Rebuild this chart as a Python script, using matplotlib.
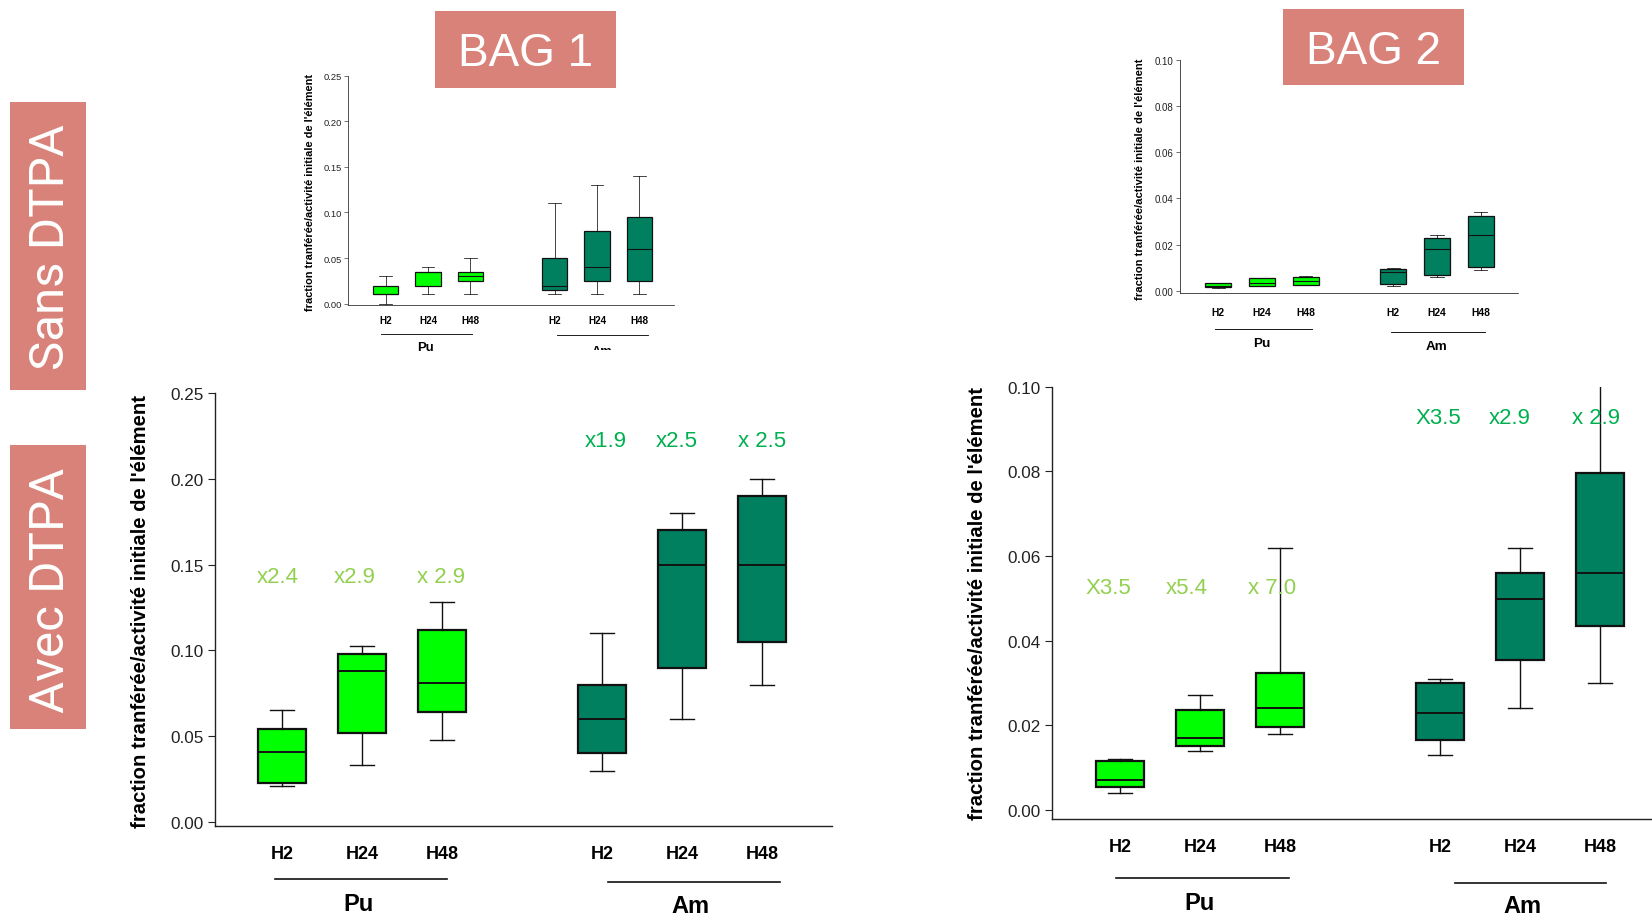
import matplotlib
matplotlib.use("Agg")
import matplotlib.pyplot as plt
import matplotlib.transforms as mtransforms
from matplotlib.patches import Rectangle

plt.rcParams["font.family"] = ["Liberation Sans", "DejaVu Sans"]

W, H = 1652, 920
SALMON = "#D9827A"
LIGHT = "#00FF00"; DARK = "#00805F"
LIGHT_TXT = "#92D050"; DARK_TXT = "#00B050"

positions = [1, 2, 3, 5, 6, 7]
times = ["H2", "H24", "H48", "H2", "H24", "H48"]
groups = ["Pu", "Am"]
fills = [LIGHT] * 3 + [DARK] * 3

# BAG 1 - sans DTPA
b1s_lo  = [0.000, 0.010, 0.010, 0.010, 0.010, 0.010]
b1s_q1  = [0.0103, 0.0198, 0.025, 0.015, 0.025, 0.025]
b1s_med = [0.0103, 0.035, 0.030, 0.0198, 0.040, 0.060]
b1s_q3  = [0.0198, 0.035, 0.035, 0.050, 0.080, 0.095]
b1s_hi  = [0.030, 0.040, 0.050, 0.110, 0.130, 0.140]

# BAG 2 - sans DTPA
b2s_lo  = [0.0013, 0.0022, 0.0026, 0.0019, 0.0059, 0.0089]
b2s_q1  = [0.0014, 0.0022, 0.0026, 0.0029, 0.0069, 0.0104]
b2s_med = [0.0022, 0.0035, 0.0040, 0.0079, 0.0180, 0.0240]
b2s_q3  = [0.0032, 0.0053, 0.0059, 0.0092, 0.0229, 0.0324]
b2s_hi  = [0.0035, 0.0056, 0.0063, 0.0099, 0.0240, 0.0340]

# BAG 1 - avec DTPA
b1a_lo  = [0.0211, 0.0331, 0.048, 0.030, 0.060, 0.080]
b1a_q1  = [0.0227, 0.0518, 0.064, 0.040, 0.090, 0.105]
b1a_med = [0.0411, 0.0883, 0.081, 0.060, 0.150, 0.150]
b1a_q3  = [0.0542, 0.0977, 0.112, 0.080, 0.170, 0.190]
b1a_hi  = [0.0652, 0.1023, 0.128, 0.110, 0.180, 0.200]

# BAG 2 - avec DTPA (last upper whisker runs past the top of the axis)
b2a_lo  = [0.00405, 0.01405, 0.0180, 0.0131, 0.0240, 0.0300]
b2a_q1  = [0.00554, 0.01512, 0.0196, 0.0166, 0.0355, 0.0434]
b2a_med = [0.0070, 0.0171, 0.0240, 0.0230, 0.0499, 0.0560]
b2a_q3  = [0.01157, 0.02355, 0.0325, 0.0300, 0.0560, 0.0795]
b2a_hi  = [0.01215, 0.0271, 0.0620, 0.0310, 0.0620, 0.1030]

# fold-increase labels (avec / sans DTPA)
b1_ratio = ["x2.4", "x2.9", "x 2.9", "x1.9", "x2.5", "x 2.5"]
b1_ratio_y = [0.143, 0.143, 0.143, 0.2225, 0.2225, 0.2225]
b2_ratio = ["X3.5", "x5.4", "x 7.0", "X3.5", "x2.9", "x 2.9"]
b2_ratio_y = [0.0525, 0.0525, 0.0525, 0.0928, 0.0928, 0.0928]

YLABEL = "fraction tranférée/activité initiale de l'élément"

fig = plt.figure(figsize=(W / 100, H / 100), dpi=100)


def px_axes(l, t, r, b):
    return fig.add_axes([l / W, 1 - b / H, (r - l) / W, (b - t) / H])


def fig_box(x0, y0, x1, y1, color, z=1):
    fig.add_artist(Rectangle((x0 / W, 1 - y1 / H), (x1 - x0) / W, (y1 - y0) / H,
                             transform=fig.transFigure, facecolor=color,
                             edgecolor="none", zorder=z))


def panel(rect, lo, q1, med, q3, hi, ylim, yticks, xlim, sc, lines, texts):
    l, t, r, b = rect
    ax = px_axes(l, t, r, b)
    stats = [dict(whislo=a, q1=c, med=m, q3=d, whishi=e, fliers=[])
             for a, c, m, d, e in zip(lo, q1, med, q3, hi)]
    bp = ax.bxp(stats, positions=positions, widths=0.6, capwidths=0.3,
                patch_artist=True, showfliers=False,
                boxprops=dict(edgecolor="#111", linewidth=1.6 * sc),
                whiskerprops=dict(color="#111", linewidth=1.0 * sc),
                capprops=dict(color="#111", linewidth=1.0 * sc),
                medianprops=dict(color="#111", linewidth=1.4 * sc))
    for box, c in zip(bp["boxes"], fills):
        box.set_facecolor(c)
    ax.set_xlim(*xlim)
    ax.set_ylim(*ylim)
    ax.set_yticks(yticks)
    ax.set_yticklabels([f"{v:.2f}" for v in yticks])
    ax.set_xticks(positions)
    ax.set_xticklabels(times, fontweight="bold")
    for s in ("top", "right"):
        ax.spines[s].set_visible(False)
    for s in ("left", "bottom"):
        ax.spines[s].set_linewidth(1.0 * sc)
        ax.spines[s].set_color("#222")
    ax.tick_params(axis="y", length=5 * sc, width=0.8 * sc, labelsize=12.3 * sc,
                   pad=3 * sc, colors="#222")
    ax.tick_params(axis="x", length=0, labelsize=13 * sc, pad=lines["pad"])
    ax.patch.set_alpha(0)
    tr = mtransforms.blended_transform_factory(ax.transData, ax.transAxes)
    hpx = b - t
    for (x0, x1, ly), lab, g in zip(lines["seg"], lines["lab"], groups):
        ax.plot([x0, x1], [(b - ly) / hpx] * 2, color="#111", lw=1.2 * sc,
                transform=tr, clip_on=False)
        if lab is None:
            continue
        tx, ty = lab
        ax.text(tx, (b - ty) / hpx, g, transform=tr, ha="center", va="center",
                fontsize=17 * sc, fontweight="bold")
    if texts is not None:
        labels, ys, xs = texts
        for s, y, x, i in zip(labels, ys, xs, range(6)):
            ax.text(x, y, s, ha="center", va="center", fontsize=16,
                    color=LIGHT_TXT if i < 3 else DARK_TXT)
    return ax


# small panels (sans DTPA)
panel((347.7, 76.9, 674, 306), b1s_lo, b1s_q1, b1s_med, b1s_q3, b1s_hi,
      (-0.0016, 0.25), [0.0, 0.05, 0.10, 0.15, 0.20, 0.25], (0.10, 7.82), 0.55,
      dict(pad=7.5, seg=[(0.89, 3.04, 335), (5.05, 7.2, 336)],
           lab=[(1.95, 348), None]), None)
panel((1180, 61, 1518, 294), b2s_lo, b2s_q1, b2s_med, b2s_q3, b2s_hi,
      (-0.001, 0.10), [0.0, 0.02, 0.04, 0.06, 0.08, 0.10], (0.13, 7.85), 0.57,
      dict(pad=10.0, seg=[(0.93, 3.15, 330), (4.95, 7.1, 333)],
           lab=[(2.0, 344), (6.0, 347)]), None)

# TL "Am" label, cut off in the original
fig.text(602 / W, 1 - 346 / H, "Am", ha="center", va="top", fontsize=9.3,
         fontweight="bold")
fig_box(575, 350.5, 630, 372, "white", z=5)

# large panels (avec DTPA)
panel((215, 394, 832, 827), b1a_lo, b1a_q1, b1a_med, b1a_q3, b1a_hi,
      (-0.0023, 0.25), [0.0, 0.05, 0.10, 0.15, 0.20, 0.25], (0.16, 7.875), 1.0,
      dict(pad=13.5, seg=[(0.91, 3.06, 880), (5.08, 7.22, 883)],
           lab=[(1.95, 905), (6.1, 907)]),
      (b1_ratio, b1_ratio_y, [0.95, 1.91, 2.98, 5.05, 5.93, 7.0]))
panel((1051.5, 387.7, 1652, 820), b2a_lo, b2a_q1, b2a_med, b2a_q3, b2a_hi,
      (-0.0021, 0.10), [0.0, 0.02, 0.04, 0.06, 0.08, 0.10], (0.144, 7.65), 1.0,
      dict(pad=13.5, seg=[(0.95, 3.11, 879), (5.19, 7.08, 884)],
           lab=[(2.0, 904), (6.03, 907)]),
      (b2_ratio, b2_ratio_y, [0.85, 1.83, 2.9, 4.98, 5.87, 6.95]))

# y-axis titles
for x, y, fs in [(310, 192, 7.9), (1140, 179, 8.1), (140, 611, 14.6), (978, 604, 14.6)]:
    fig.text(x / W, 1 - y / H, YLABEL, rotation=90, ha="center", va="center",
             fontsize=fs, fontweight="bold")

# header boxes
fig_box(435, 11.6, 616, 88.5, SALMON)
fig.text(525.5 / W, 1 - 54 / H, "BAG 1", ha="center", va="center", fontsize=33,
         color="white", zorder=2)
fig_box(1283, 9.5, 1464, 86.4, SALMON)
fig.text(1373.5 / W, 1 - 52 / H, "BAG 2", ha="center", va="center", fontsize=33,
         color="white", zorder=2)
fig_box(9.5, 103, 86.4, 391, SALMON)
fig.text(51 / W, 1 - 247 / H, "Sans DTPA", rotation=90, ha="center", va="center",
         fontsize=35.5, color="white", family="Roboto", zorder=2)
fig_box(9.5, 446, 86.4, 730, SALMON)
fig.text(51 / W, 1 - 590 / H, "Avec DTPA", rotation=90, ha="center", va="center",
         fontsize=35.5, color="white", family="Roboto", zorder=2)

fig.savefig("out.png", dpi=100)
